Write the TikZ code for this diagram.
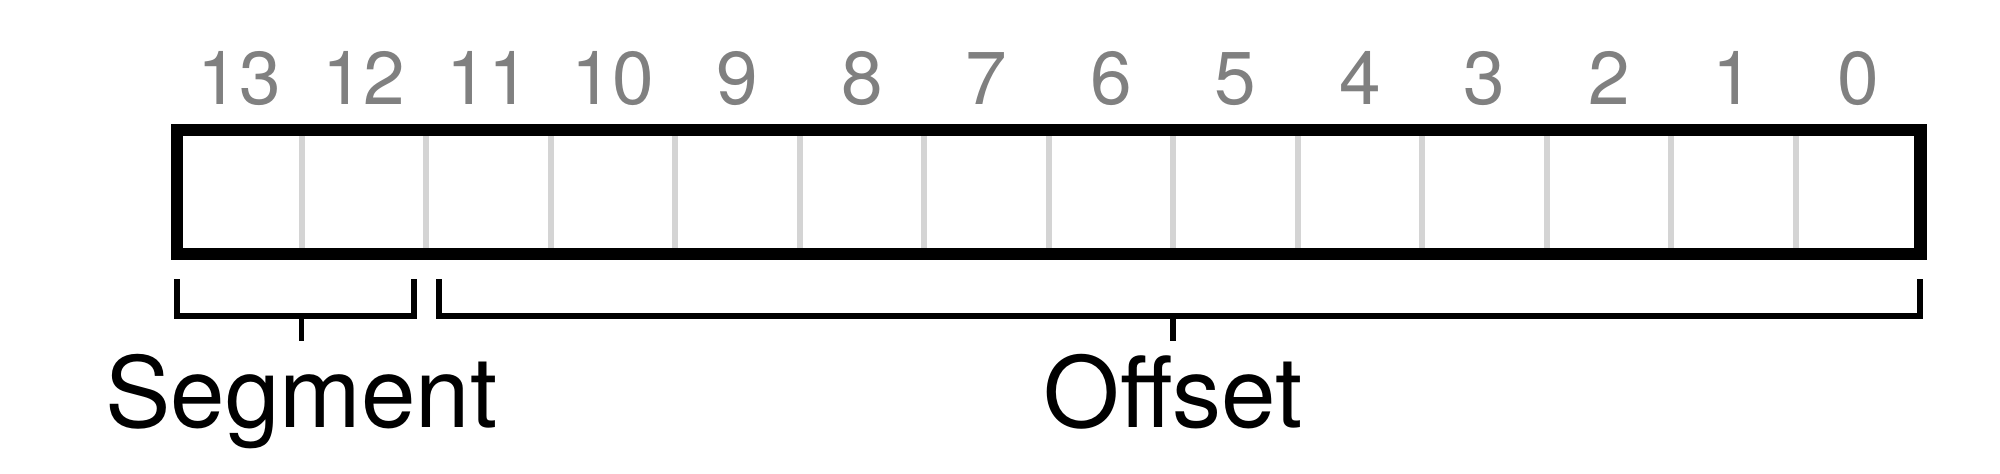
\documentclass[tikz,border=0pt]{standalone}
\usepackage{fontspec}
\setmainfont{TeX Gyre Heros}
\usetikzlibrary{positioning}

\begin{document}
\begin{tikzpicture}[
    bitnum/.style={text=black!50, font=\fontsize{21.3}{24}\selectfont, anchor=base, inner sep=0pt},
    fieldname/.style={font=\fontsize{27.9}{32}\selectfont, anchor=base, inner sep=0pt},
    divider/.style={draw=black!17, line width=1.7pt},
    bracket/.style={draw, line width=1.7pt}]
  \useasboundingbox (0,0) rectangle (20,-4.73);
  % cell dividers, drawn under the frame
  \foreach \i in {1,...,13}
    \draw[divider] ({1.77+\i*1.24536},-1.30) -- ({1.77+\i*1.24536},-2.54);
  \node (reg) [draw, line width=3.56pt, minimum width=17.435cm, minimum height=1.24cm, inner sep=0pt] at (10.4875,-1.92) {};
  % bit numbers
  \foreach \b in {0,...,13}
    \node (bit\b) [bitnum] at ({1.77+(13.5-\b)*1.24536},-1.045) {\b};
  % brackets
  \coordinate (segL) at (1.77,-2.79);
  \coordinate (segR) at (4.14,-2.79);
  \coordinate (segM) at (3.015,-3.16);
  \coordinate (segT) at (3.015,-3.41);
  \coordinate (offL) at (4.39,-2.79);
  \coordinate (offR) at (19.20,-2.79);
  \coordinate (offM) at (11.73,-3.16);
  \coordinate (offT) at (11.73,-3.41);
  \draw[bracket] (segL) |- (segM) -| (segR);
  \draw[bracket] (segM) -- (segT);
  \draw[bracket] (offL) |- (offM) -| (offR);
  \draw[bracket] (offM) -- (offT);
  \node (seg) [fieldname] at (3.015,-4.27) {Segment};
  \node (off) [fieldname] at (11.73,-4.27) {Offset};
\end{tikzpicture}
\end{document}
